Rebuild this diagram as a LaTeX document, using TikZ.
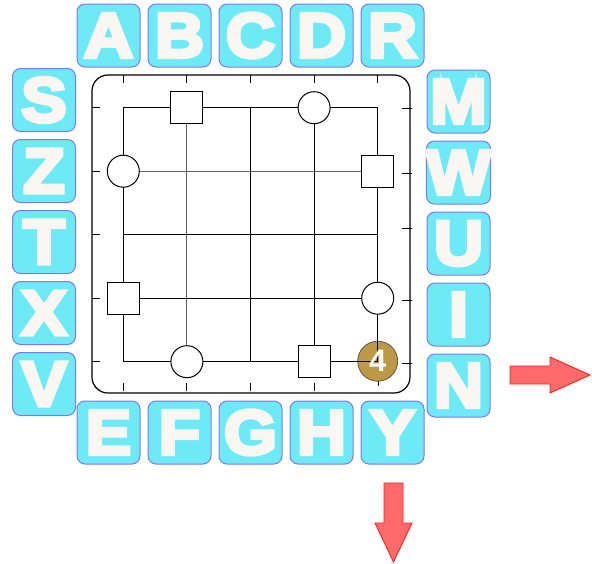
\documentclass[tikz,border=0pt]{standalone}
\usepackage{fontspec}
\setmainfont{Liberation Sans}
\newfontfamily\tilefont[FakeBold=6,FakeStretch=1.08]{Liberation Sans Bold}
\definecolor{tilefill}{HTML}{6EEAF6}
\definecolor{tileline}{HTML}{7A7AF2}
\definecolor{lettercol}{HTML}{FAF7F2}
\definecolor{arrowfill}{HTML}{FF6B6B}
\definecolor{arrowline}{HTML}{FF1E1E}
\definecolor{brown}{HTML}{BD9945}
\definecolor{gridgray}{HTML}{5E5E5E}
\tikzset{
  tile/.style={draw=tileline, fill=tilefill, rounded corners=8pt, minimum width=63pt,
    minimum height=63pt, inner sep=0pt, line width=1pt,
    font=\tilefont\fontsize{63}{63}\selectfont, text=lettercol},
  sqpiece/.style={draw, fill=white, minimum size=32pt, inner sep=0pt, line width=1pt},
  cirpiece/.style={draw, fill=white, circle, minimum size=32pt, inner sep=0pt, line width=1pt},
  brownpiece/.style={draw=black!70, fill=brown, circle, minimum size=40pt, inner sep=0pt, line width=0.7pt},
  gridline/.style={line width=1pt},
  tickline/.style={line width=1pt},
  bigarrow/.style={fill=arrowfill, draw=arrowline, line width=0.9pt, line join=miter}
}
\begin{document}
\begin{tikzpicture}[x=1pt,y=-1pt]
\useasboundingbox (0,0) rectangle (592,563);
% tiles
\foreach \l [count=\i from 0] in {A,B,C,D,R}
  \node[tile] (top\i) at ({108.5+71*\i},35.5) {\l};
\foreach \l [count=\i from 0] in {E,F,G,H,Y}
  \node[tile] (bot\i) at ({108.5+71*\i},432.5) {\l};
\foreach \l [count=\i from 0] in {S,Z,T,X,V}
  \node[tile] (lef\i) at (44,{100+71*\i}) {\l};
\foreach \l [count=\i from 0] in {M,W,U,I,N}
  \node[tile] (rig\i) at (458.5,{101.5+71*\i}) {\l};
% board
\draw[line width=1.2pt, rounded corners=16pt] (92,75) rectangle (410,393);
% ticks
\foreach \i in {0,...,4} {
  \pgfmathsetmacro{\gx}{123.3+63.6*\i}
  \draw[tickline] (\gx,75) -- (\gx,83);
  \draw[tickline] (92,{107.7+63.5*\i}) -- (100,{107.7+63.5*\i});
}
\foreach \i in {0,...,3}
  \draw[tickline] ({123.3+63.6*\i},383) -- ({123.3+63.6*\i},391);
\draw[tickline] (378,378) -- (378,386);
\foreach \yy in {108,173,228,300,363}
  \draw[tickline] (402,\yy) -- (412,\yy);
% brown piece (behind lines)
\node[brownpiece] (brw) at (377.7,361.2) {};
% grid
\foreach \i in {0,...,4} {
  \pgfmathsetmacro{\gx}{123.3+63.6*\i}
  \pgfmathsetmacro{\gy}{107.7+63.5*\i}
  \ifnum\i=1
    \draw[gridline, draw=gridgray] (\gx,107.7) -- (\gx,361.7);
    \draw[gridline, draw=gridgray] (123.3,\gy) -- (377.7,\gy);
  \else
    \draw[gridline] (\gx,107.7) -- (\gx,361.7);
    \draw[gridline] (123.3,\gy) -- (377.7,\gy);
  \fi
}
% pieces
\node[sqpiece] (s1) at (186.9,107.7) {};
\node[sqpiece] (s2) at (377.7,171.2) {};
\node[sqpiece] (s3) at (123.3,298.2) {};
\node[sqpiece] (s4) at (314.1,361.7) {};
\node[cirpiece] (c1) at (314.1,107.7) {};
\node[cirpiece] (c2) at (123.3,171.2) {};
\node[cirpiece] (c3) at (377.7,298.2) {};
\node[cirpiece] (c4) at (186.9,361.7) {};
\node[font=\fontsize{31}{31}\selectfont\bfseries, text=white, inner sep=0pt] (four) at (brw.center) {4};
% arrows
\draw[bigarrow] (510,366) -- (550,366) -- (550,357) -- (590,375) -- (550,393) -- (550,384) -- (510,384) -- cycle;
\draw[bigarrow] (384,483) -- (403,483) -- (403,523) -- (412,523) -- (393.5,562) -- (375,523) -- (384,523) -- cycle;
\end{tikzpicture}
\end{document}
